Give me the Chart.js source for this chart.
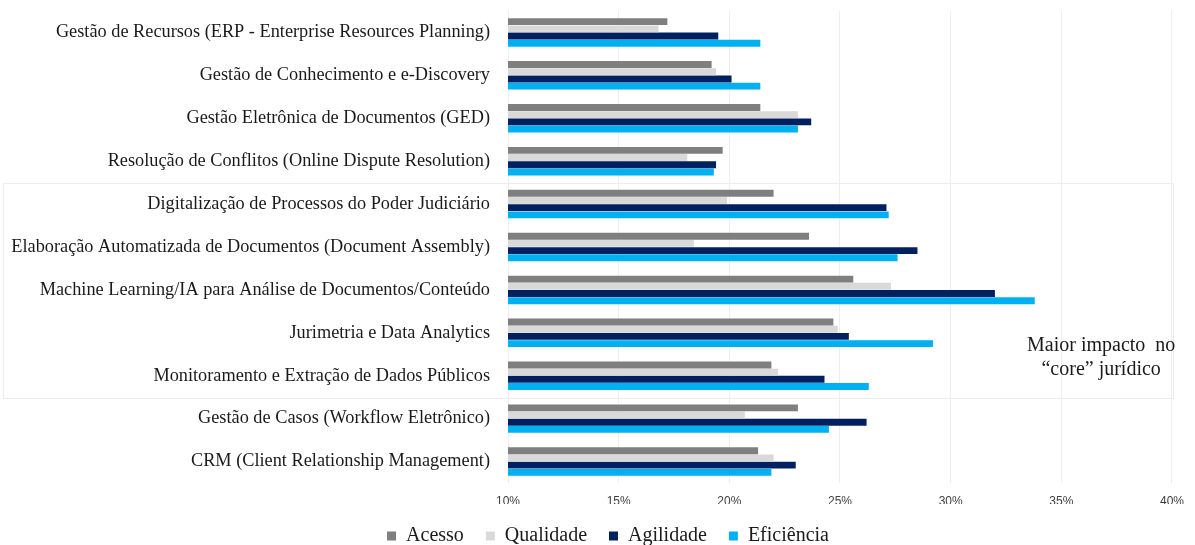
<!DOCTYPE html>
<html lang="pt-BR">
<head>
<meta charset="utf-8">
<title>Impacto das tecnologias jurídicas</title>
<script src="https://cdn.jsdelivr.net/npm/chart.js@4.4.1/dist/chart.umd.min.js"></script>
<style>
  html, body { margin: 0; padding: 0; background: #fff; overflow: hidden; }
  .chart-box { position: relative; width: 1195px; height: 545px; }
</style>
</head>
<body>
<div class="chart-box">
  <canvas id="impactChart"></canvas>
</div>
<script>
// categories, top to bottom
const categories = [
  'Gestão de Recursos (ERP - Enterprise Resources Planning)',
  'Gestão de Conhecimento e e-Discovery',
  'Gestão Eletrônica de Documentos (GED)',
  'Resolução de Conflitos (Online Dispute Resolution)',
  'Digitalização de Processos do Poder Judiciário',
  'Elaboração Automatizada de Documentos (Document Assembly)',
  'Machine Learning/IA para Análise de Documentos/Conteúdo',
  'Jurimetria e Data Analytics',
  'Monitoramento e Extração de Dados Públicos',
  'Gestão de Casos (Workflow Eletrônico)',
  'CRM (Client Relationship Management)'
];

// values in %
const acesso     = [17.2, 19.2, 21.4, 19.7, 22.0, 23.6, 25.6, 24.7, 21.9, 23.1, 21.3];
const qualidade  = [16.8, 19.4, 23.1, 18.1, 19.9, 18.4, 27.3, 24.9, 22.2, 20.7, 22.0];
const agilidade  = [19.5, 20.1, 23.7, 19.4, 27.1, 28.5, 32.0, 25.4, 24.3, 26.2, 23.0];
const eficiencia = [21.4, 21.4, 23.1, 19.3, 27.2, 27.6, 33.8, 29.2, 26.3, 24.5, 21.9];

const seriesNames = ['Acesso', 'Qualidade', 'Agilidade', 'Eficiência'];
const xTicks = [10, 15, 20, 25, 30, 35, 40];
const noteLines = ['Maior impacto  no', '\u201Ccore\u201D jurídico'];

const serif = "'Liberation Serif', 'Times New Roman', serif";
const narrow = "'Liberation Sans Narrow', 'Liberation Sans', Arial, sans-serif";

// faint frame around the "core" rows (Digitalização .. Monitoramento) + side note
const coreFrame = {
  id: 'coreFrame',
  afterLayout(chart) {
    // legend centred under the bars rather than the whole canvas
    const legend = chart.legend;
    legend.left += 14;
    legend.right += 14;
  },
  beforeDraw(chart) {
    const y = chart.scales.y;
    const x = chart.scales.x;
    const ctx = chart.ctx;
    const top = (y.getPixelForValue(3) + y.getPixelForValue(4)) / 2;
    const bottom = (y.getPixelForValue(8) + y.getPixelForValue(9)) / 2;
    const right = x.getPixelForValue(40) + 1;
    ctx.save();
    ctx.strokeStyle = '#ececec';
    ctx.lineWidth = 1;
    ctx.strokeRect(3.5, Math.round(top) + 0.5, right - 3, Math.round(bottom - top));
    ctx.restore();
  },
  afterDraw(chart) {
    const y = chart.scales.y;
    const x = chart.scales.x;
    const ctx = chart.ctx;
    const cx = x.getPixelForValue(36.8);
    const cy = (y.getPixelForValue(7) + y.getPixelForValue(8)) / 2 + 3;
    ctx.save();
    ctx.font = '20px ' + serif;
    ctx.fillStyle = '#1a1a1a';
    ctx.textAlign = 'center';
    ctx.textBaseline = 'middle';
    ctx.fillText(noteLines[0], cx, cy - 12);
    ctx.fillText(noteLines[1], cx, cy + 12);
    ctx.restore();
  }
};

function impactChart() {
  const ctx = document.getElementById('impactChart');
  const colors = ['#7f7f7f', '#d9d9d9', '#002060', '#00b0f0'];
  const values = [acesso, qualidade, agilidade, eficiencia];

  new Chart(ctx, {
    type: 'bar',
    data: {
      labels: categories,
      datasets: seriesNames.map(function (name, i) {
        return {
          label: name,
          data: values[i],
          backgroundColor: colors[i],
          borderWidth: 0,
          categoryPercentage: 0.67,
          barPercentage: 0.96
        };
      })
    },
    options: {
      indexAxis: 'y',
      responsive: true,
      maintainAspectRatio: false,
      animation: false,
      layout: {
        padding: { top: 10, left: 8, right: 15, bottom: -11 }
      },
      scales: {
        x: {
          min: 10,
          max: 40,
          afterBuildTicks: function (scale) {
            scale.ticks = xTicks.map(function (v) { return { value: v }; });
          },
          afterFit: function (scale) { scale.height = 21; },
          grid: { color: '#eeeeee', drawTicks: false },
          border: { display: false },
          ticks: {
            padding: 11,
            color: '#404040',
            font: { family: narrow, size: 12 },
            callback: function (v) { return v + '%'; }
          }
        },
        y: {
          afterFit: function (scale) { scale.width = 500; },
          // invisible tick marks keep the labels off the bars
          grid: {
            color: 'rgba(0,0,0,0)',
            drawOnChartArea: false,
            drawTicks: true,
            tickLength: 18
          },
          border: { display: false },
          ticks: {
            padding: 0,
            color: '#1a1a1a',
            font: { family: serif, size: 18.3 }
          }
        }
      },
      plugins: {
        legend: {
          position: 'bottom',
          labels: {
            boxWidth: 9,
            boxHeight: 9,
            padding: 22,
            color: '#1a1a1a',
            font: { family: serif, size: 20 }
          }
        },
        tooltip: { enabled: false }
      }
    },
    plugins: [coreFrame]
  });
}

impactChart();
</script>
</body>
</html>
